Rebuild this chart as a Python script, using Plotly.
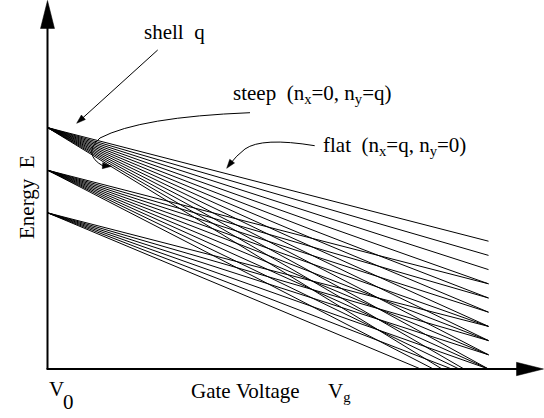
import plotly.graph_objects as go

# Gate-voltage sweep from V0 to the right end of the drawn levels (arbitrary units)
v_span = [0.0, 1.0]

# Shell energies at V0, lowest shell first (arbitrary units)
shell_start = [11, 14, 17]

# Level energies at the end of the sweep, ordered from flat (n_x=q) to steep (n_y=q)
ends_low = [3, 2, 1, 0, -1, -2]
ends_mid = [6, 5, 4, 3, 2, 1, 0, -1, -2]
ends_top = [9, 8, 7, 6, 5, 4, 3, 2, 1, 0, -1, -2]
shell_ends = [ends_low, ends_mid, ends_top]

# Canvas geometry (pixels)
W, H = 544, 418
L, B = 47, 49
PW, PH = W - L, H - B
UNIT_PX = 14.2          # pixels per energy unit
SPAN_PX = 441.0         # pixels for the full gate-voltage sweep
X0_PX = 47.5            # pixel column of V0


def px(x):
    return (x - L) / PW


def py(y):
    return (PH - y) / PH


# All levels as one trace, segments separated by None
xs, ys = [], []
for e0, ends in zip(shell_start, shell_ends):
    for e1 in ends:
        xs += [v_span[0], v_span[1], None]
        ys += [e0, e1, None]

fig = go.Figure()
fig.add_trace(go.Scatter(
    x=xs, y=ys, mode="lines",
    line=dict(color="black", width=1),
    hoverinfo="skip", showlegend=False,
))

FONT = "Liberation Serif, Times New Roman, serif"
FS = 21
NB = "\u00a0"

shapes = []


def line_px(x1, y1, x2, y2, w):
    shapes.append(dict(type="line", xref="paper", yref="paper",
                       x0=px(x1), y0=py(y1), x1=px(x2), y1=py(y2),
                       line=dict(color="black", width=w)))


def poly_px(points):
    d = "M " + " L ".join(f"{px(a):.5f},{py(b):.5f}" for a, b in points) + " Z"
    shapes.append(dict(type="path", xref="paper", yref="paper", path=d,
                       fillcolor="black", line=dict(color="black", width=0.5)))


def head(tip, toward, length, half):
    # filled arrowhead with its tip at `tip`, pointing away from `toward`
    tx, ty = tip
    dx, dy = tx - toward[0], ty - toward[1]
    n = (dx * dx + dy * dy) ** 0.5
    ux, uy = dx / n, dy / n
    bx, by = tx - ux * length, ty - uy * length
    poly_px([(tx, ty), (bx - uy * half, by + ux * half), (bx + uy * half, by - ux * half)])


def curve_px(segments, w=1):
    # segments: list of ("M"/"Q"/"C"/"L", [(x, y), ...]) in pixel coordinates
    parts = []
    for cmd, pts in segments:
        parts.append(cmd + " " + " ".join(f"{px(a):.5f},{py(b):.5f}" for a, b in pts))
    shapes.append(dict(type="path", xref="paper", yref="paper", path=" ".join(parts),
                       line=dict(color="black", width=w)))


# Axes with arrowheads
line_px(X0_PX, 369, X0_PX, 26, 2)
head((X0_PX, 0.5), (X0_PX, 30), 28, 7)
line_px(X0_PX - 1, 369, 519, 369, 2)
head((543.5, 369), (510, 369), 27, 6.7)

# "shell q" pointer
line_px(157.7, 50, 81, 119.5, 1)
head((76.7, 123.3), (157.7, 50), 9, 3)

# "steep" pointer: sweeps left, curls down and back to the right
curve_px([("M", [(250, 112.7)]),
          ("Q", [(140, 117), (100, 138)]),
          ("Q", [(82, 154), (103, 166)])])
head((111.5, 166.3), (100, 165.5), 9, 3)

# "flat" pointer
curve_px([("M", [(314.7, 145.7)]),
          ("Q", [(262, 137), (245, 149)]),
          ("Q", [(236, 156), (230, 164)])])
head((226.7, 168.3), (233, 160), 9, 3)

annotations = []


def text_px(t, x, y, xanchor="left", angle=0, size=FS):
    annotations.append(dict(text=t, x=px(x), y=py(y), xref="paper", yref="paper",
                            xanchor=xanchor, yanchor="middle", showarrow=False,
                            textangle=angle, font=dict(family=FONT, size=size, color="black")))


text_px("shell" + NB + NB + "q", 142, 32)
text_px("steep" + NB + NB + "(n<sub>x</sub>=0, n<sub>y</sub>=q)", 231, 94)
text_px("flat" + NB + NB + "(n<sub>x</sub>=q, n<sub>y</sub>=0)", 321, 146)
text_px("Energy" + NB + NB + "E", 26.5, 197.5, xanchor="center", angle=-90)
text_px("Gate" + NB + "Voltage", 189, 391)
text_px("V", 47, 389)
text_px("0", 61, 402)
text_px("V<sub>g</sub>", 326, 392)

fig.update_layout(
    width=W, height=H,
    margin=dict(l=L, r=0, t=0, b=B),
    paper_bgcolor="white", plot_bgcolor="white",
    xaxis=dict(visible=False,
               range=[(L - X0_PX) / SPAN_PX, (W - X0_PX) / SPAN_PX]),
    yaxis=dict(visible=False, range=[0, PH / UNIT_PX]),
    shapes=shapes, annotations=annotations,
)

fig.write_html("out.html")
